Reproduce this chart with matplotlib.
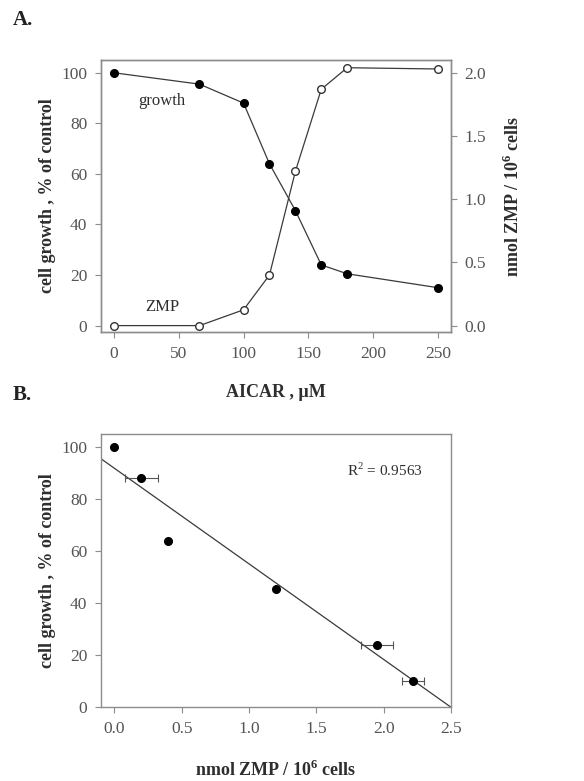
import numpy as np
from matplotlib import pyplot as plt

plt.rcParams['font.family'] = ['Liberation Serif', 'DejaVu Serif']
plt.rcParams['mathtext.fontset'] = 'custom'
plt.rcParams['mathtext.rm'] = 'Liberation Serif'
plt.rcParams['mathtext.bf'] = 'Liberation Serif:bold'

# panel A data
aicar = [0, 66, 100, 120, 140, 160, 180, 250]
growth = [100, 95.5, 88, 64, 45.5, 24, 20.5, 15]
zmp = [0.0, 0.0, 0.125, 0.40, 1.22, 1.87, 2.04, 2.03]

# panel B data
zmp_b = [0.0, 0.2, 0.4, 1.2, 1.95, 2.22]
growth_b = [100, 88, 64, 45.5, 24, 10]
zmp_b_err = [0.0, 0.12, 0.0, 0.0, 0.12, 0.08]
r2_text = 'R$^2$ = 0.9563'

spine_c = '#8c8c8c'
line_c = '#3a3a3a'
text_c = '#2e2e2e'
tick_c = '#555555'

fig = plt.figure(figsize=(5.84, 7.81), dpi=100)

def style(ax):
    for s in ax.spines.values():
        s.set_color(spine_c)
        s.set_linewidth(1.0)
    ax.tick_params(direction='out', length=4, width=0.8, color=spine_c,
                   labelsize=12.5, labelcolor=tick_c, pad=6)

# ---- A ----
ax1 = fig.add_axes([0.173, 0.575, 0.599, 0.348])
ax1.plot(aicar, growth, '-o', color=line_c, lw=0.9, ms=5.5,
         mfc='black', mec='black', zorder=3)
ax1.set_xlim(-10, 260)
ax1.set_ylim(-2.5, 105)
ax1.set_xticks([0, 50, 100, 150, 200, 250])
ax1.set_yticks([0, 20, 40, 60, 80, 100])
ax1.set_ylabel('cell growth , % of control', fontsize=13, fontweight='bold',
               color=text_c, labelpad=4)
ax1.set_xlabel('AICAR , \u00b5M', fontsize=13, fontweight='bold',
               color=text_c, labelpad=16)
ax1.text(37, 89, 'growth', fontsize=12, color=text_c, ha='center', va='center')
ax1.text(37, 7.5, 'ZMP', fontsize=12, color=text_c, ha='center', va='center')
style(ax1)

ax2 = ax1.twinx()
ax2.plot(aicar, zmp, '-o', color=line_c, lw=0.9, ms=5.5,
         mfc='white', mec='#333333', zorder=3)
ax2.set_ylim(-0.05, 2.1)
ax2.set_yticks([0.0, 0.5, 1.0, 1.5, 2.0])
ax2.set_yticklabels(['0.0', '0.5', '1.0', '1.5', '2.0'])
ax2.set_ylabel(r'nmol ZMP / 10$^\mathbf{6}$ cells', fontsize=13,
               fontweight='bold', color=text_c, labelpad=12)
style(ax2)

# ---- B ----
ax3 = fig.add_axes([0.173, 0.095, 0.599, 0.349])
ax3.errorbar(zmp_b, growth_b, xerr=zmp_b_err, fmt='o', color='black', ms=5.5,
             ecolor='#555555', elinewidth=0.8, capsize=3, capthick=0.8, zorder=3)
slope, icpt = np.polyfit(zmp_b, growth_b, 1)
xs = np.array([-0.1, 2.5])
ax3.plot(xs, icpt + slope * xs, color=line_c, lw=0.9)
ax3.set_xlim(-0.1, 2.5)
ax3.set_ylim(0, 105)
ax3.set_xticks([0.0, 0.5, 1.0, 1.5, 2.0, 2.5])
ax3.set_xticklabels(['0.0', '0.5', '1.0', '1.5', '2.0', '2.5'])
ax3.set_yticks([0, 20, 40, 60, 80, 100])
ax3.set_ylabel('cell growth , % of control', fontsize=13, fontweight='bold',
               color=text_c, labelpad=4)
ax3.set_xlabel(r'nmol ZMP / 10$^\mathbf{6}$ cells', fontsize=13,
               fontweight='bold', color=text_c, labelpad=17)
ax3.text(1.73, 91, r2_text, fontsize=11, color=text_c, ha='left', va='center')
style(ax3)

fig.text(0.022, 0.975, 'A.', fontsize=15, fontweight='bold', color='#222222',
         va='center', ha='left')
fig.text(0.022, 0.494, 'B.', fontsize=15, fontweight='bold', color='#222222',
         va='center', ha='left')

plt.savefig('out.png', dpi=100)
